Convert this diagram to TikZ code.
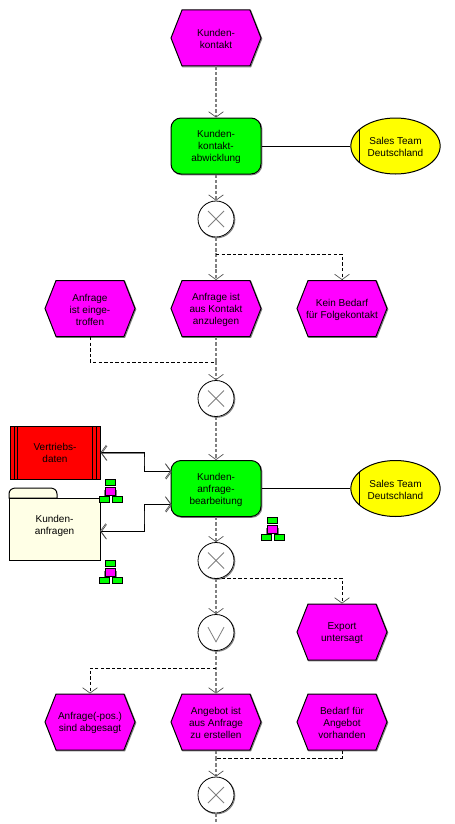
\documentclass[tikz,border=0pt]{standalone}
\usepackage{fontspec}
\setmainfont{Liberation Sans}
\usetikzlibrary{arrows.meta,shapes.geometric,shapes.symbols}
\definecolor{mag}{HTML}{FF00FF}
\definecolor{grn}{HTML}{00FF00}
\definecolor{yel}{HTML}{FFFF00}
\definecolor{redb}{HTML}{FF0000}
\definecolor{cream}{HTML}{FFFFE6}
\definecolor{shad}{HTML}{808080}
\tikzset{
  x=.75pt,y=-.75pt,
  lbl/.style={font=\fontsize{7.5}{9}\selectfont,align=center,text=black,inner sep=0pt},
  cap/.style={label={[lbl,yshift=-.75pt]center:#1}},
  shd/.style={preaction={draw=shad,line width=.75pt,transform canvas={xshift=.6pt,yshift=-.6pt}}},
  evt/.style={inner sep=0pt,shape=signal,signal from=west and east,signal to=west and east,signal pointer angle=137,
    minimum width=67.5pt,minimum height=42pt,fill=mag,draw=black,line width=.75pt,shd,cap={#1}},
  fnc/.style={inner sep=0pt,rectangle,rounded corners=7.5pt,minimum width=67.5pt,minimum height=42pt,fill=grn,draw=black,line width=.75pt,shd,cap={#1}},
  org/.style={inner sep=0pt,ellipse,minimum width=67pt,minimum height=42pt,fill=yel,draw=black,line width=.75pt,cap={#1},
    path picture={\draw[black,line width=.75pt] ([xshift=-27.3pt]path picture bounding box.north) -- ([xshift=-27.3pt]path picture bounding box.south);}},
  gate/.style={circle,minimum size=27pt,inner sep=0pt,fill=white,draw=black,line width=.6pt,shd},
  xorg/.style={gate,path picture={\draw[shad,line width=.6pt]
     ([shift={(-6pt,-6pt)}]path picture bounding box.center) -- ([shift={(6pt,6pt)}]path picture bounding box.center)
     ([shift={(-6pt,6pt)}]path picture bounding box.center) -- ([shift={(6pt,-6pt)}]path picture bounding box.center);}},
  org2/.style={gate,path picture={\draw[shad,line width=.6pt]
     ([shift={(-6pt,4pt)}]path picture bounding box.center) -- ([shift={(0pt,-7pt)}]path picture bounding box.center) -- ([shift={(6pt,4pt)}]path picture bounding box.center);}},
  bar/.style={-{Straight Barb[length=4pt,width=11pt,line width=.5pt,color=black!70]}},
  barb/.style={{Straight Barb[length=4pt,width=11pt,line width=.5pt,color=black!70]}-{Straight Barb[length=4pt,width=11pt,line width=.5pt,color=black!70]}},
  flowm/.style={draw=shad,line width=1.4pt,dash pattern=on 2.6pt off 1.4pt},
  flowt/.style={draw=black,line width=.7pt,dash pattern=on 2.6pt off 1.6pt},
  assoc/.style={draw=black,line width=.75pt},
  res/.style={draw=black,line width=.75pt,barb,preaction={draw=shad,line width=.5pt,transform canvas={xshift=.6pt,yshift=-.6pt}}},
  tbox/.style={draw=black,line width=.75pt,fill=grn},
  mbox/.style={draw=black,line width=.75pt,fill=mag},
  tree/.pic={
    \draw[shad,line width=.6pt] (-6,11) -- (-6,18) (6,11) -- (6,18);
    \draw[tbox] (-5,0) rectangle (5,6);
    \draw[mbox] (-5,8) rectangle (5,16);
    \draw[tbox] (-11,17) rectangle (-1,23);
    \draw[tbox] (2,17) rectangle (12,23);
  }
}
\begin{document}
\begin{tikzpicture}
\useasboundingbox[fill=white] (0,0) rectangle (454,824);
% events
\node[evt={Kunden-\\kontakt}] (e1) at (216,38) {};
\node[evt={Anfrage\\ist einge-\\troffen}] (e2) at (90,308.5) {};
\node[evt={Anfrage ist\\aus Kontakt\\anzulegen}] (e3) at (216,308.5) {};
\node[evt={Kein Bedarf\\für Folgekontakt}] (e4) at (342,308.5) {};
\node[evt={Export\\untersagt}] (e5) at (342,632) {};
\node[evt={Anfrage(-pos.)\\sind abgesagt}] (e6) at (90,722) {};
\node[evt={Angebot ist\\aus Anfrage\\zu erstellen}] (e7) at (216,722) {};
\node[evt={Bedarf für\\Angebot\\vorhanden}] (e8) at (342,722) {};
% functions
\node[fnc={Kunden-\\kontakt-\\abwicklung}] (f1) at (216,146) {};
\node[fnc={Kunden-\\anfrage-\\bearbeitung}] (f2) at (216,488.5) {};
% org units
\node[org={Sales Team\\Deutschland}] (o1) at (395.5,146) {};
\node[org={Sales Team\\Deutschland}] (o2) at (395.5,488.5) {};
% gates
\node[xorg] (x1) at (216,219) {};
\node[xorg] (x2) at (216,398.5) {};
\node[xorg] (x3) at (216,560.5) {};
\node[org2] (v1) at (216,632.5) {};
\node[xorg] (x4) at (216,795) {};
% data
\node[lbl,draw=black,fill=redb,line width=.75pt,minimum width=67.5pt,minimum height=39.75pt] (r1) at (55,452.5) {Vertriebs-\\daten};
\draw[black,line width=.75pt] (14.5,426) -- (14.5,479) (17,426) -- (17,479) (92,426) -- (92,479) (96,426) -- (96,479);
\draw[draw=black,fill=cream,line width=.75pt] (9,498) -- (9,494) .. controls (9,490) and (12,488) .. (16,488) -- (50,488) .. controls (54,488) and (57,490) .. (57,494) -- (57,498) -- cycle;
\node[draw=black,fill=cream,line width=.75pt,minimum width=68.25pt,minimum height=46.5pt,inner sep=0pt,shd] (s1) at (54.5,529) {};
\node[lbl] (s1t) at (54.5,525.5) {Kunden-\\anfragen};
% connectors
\coordinate (b1) at (216,254);
\coordinate (m1) at (216,362);
\coordinate (b2) at (216,578);
\coordinate (b3) at (216,668);
\coordinate (m2) at (216,758);
\coordinate (end) at (216,824);
\coordinate (fa) at (171,471);
\coordinate (fb) at (171,504);
\coordinate (ka) at (144,461);
\coordinate (kb) at (144,517);
\coordinate (sa) at (100,531);
\draw[flowm,bar] (e1.south) -- (f1.north);
\draw[flowm,bar] (f1.south) -- (x1.north);
\draw[flowm,bar] (x1.south) -- (e3.north);
\draw[flowm] (e3.south) -- (m1);
\draw[flowm,bar] (m1) -- (x2.north);
\draw[flowm,bar] (x2.south) -- (f2.north);
\draw[flowm,bar] (f2.south) -- (x3.north);
\draw[flowm,bar] (x3.south) -- (v1.north);
\draw[flowm,bar] (v1.south) -- (e7.north);
\draw[flowm] (e7.south) -- (m2);
\draw[flowm,bar] (m2) -- (x4.north);
\draw[flowm] (x4.south) -- (end);
\draw[flowt,bar] (b1) -| (e4.north);
\draw[flowt] (e2.south) |- (m1);
\draw[flowt,bar] (b2) -| (e5.north);
\draw[flowt,bar] (b3) -| (e6.north);
\draw[flowt] (e8.south) |- (m2);
\draw[assoc] (f1.east) -- (o1.west);
\draw[assoc] (f2.east) -- (o2.west);
\draw[res] (r1.east) -| (ka) |- (fa);
\draw[res] (sa) -| (kb) |- (fb);
% icons
\pic at (110,479) {tree};
\pic at (110,560) {tree};
\pic at (272,517) {tree};
\end{tikzpicture}
\end{document}
